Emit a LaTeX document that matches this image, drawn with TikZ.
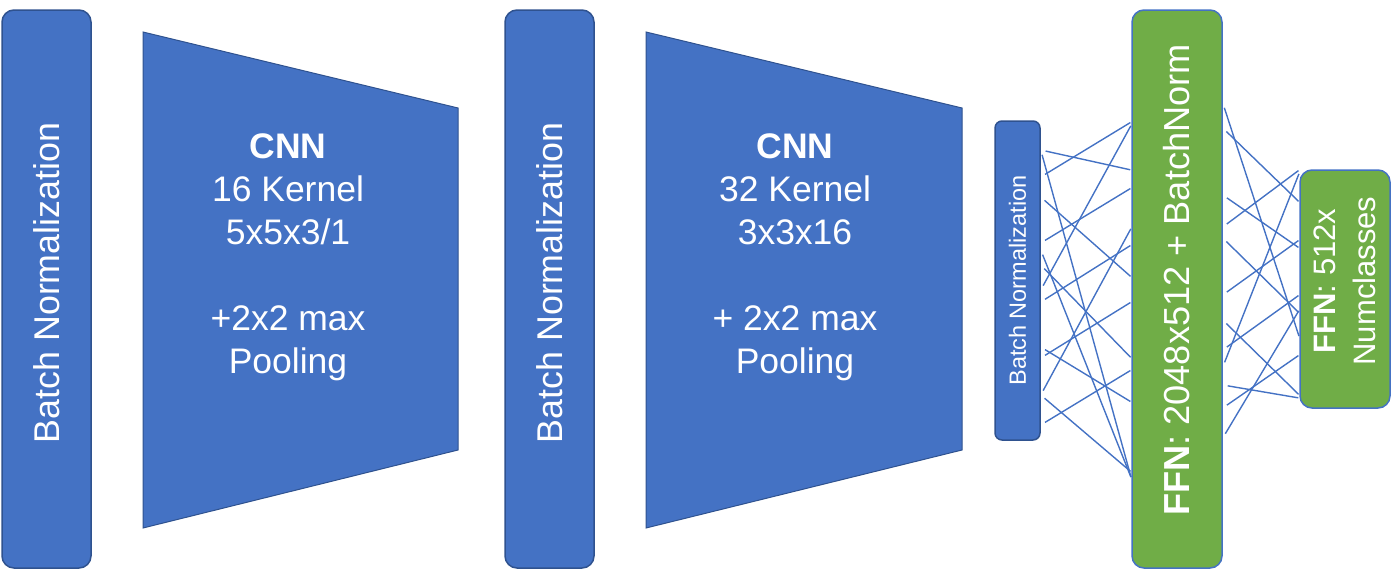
\documentclass[tikz,border=0pt]{standalone}
\usepackage{fontspec}
\setmainfont{Liberation Sans}
\usetikzlibrary{positioning}
\definecolor{bnblue}{HTML}{4472C4}
\definecolor{bnedge}{HTML}{2F528F}
\definecolor{ffgreen}{HTML}{70AD47}

\begin{document}
\begin{tikzpicture}[x=1pt,y=-1pt,
    layer/.style={draw=bnedge,line width=1.5pt,fill=bnblue,text=white,rounded corners=12pt,
      rotate=90,inner sep=0pt,align=center,font=\fontsize{35.8}{40}\selectfont},
    ffn/.style={layer,fill=ffgreen,draw=bnblue},
    cnn/.style={fill=bnblue,draw=bnedge,line width=1pt},
    cnntext/.style={text=white,align=center,font=\fontsize{35.5}{43}\selectfont},
    wire/.style={draw=bnblue,line width=1.4pt,shorten <=5pt,shorten >=1pt}]
    \useasboundingbox (0,0) rectangle (1400,570);

    % batch norm blocks
    \node[layer,minimum width=558pt,minimum height=89pt] (bn1) at (46.5,289)  {\hspace*{12pt}Batch Normalization};
    \node[layer,minimum width=558pt,minimum height=89pt] (bn2) at (549.5,289) {\hspace*{12pt}Batch Normalization};
    \node[layer,rounded corners=7pt,minimum width=319pt,minimum height=45pt,
      font=\fontsize{23.5}{28}\selectfont] (bn3) at (1017.5,280.5) {Batch Normalization};

    % conv blocks
    \fill[cnn] (143,32) -- (458,108) -- (458,450) -- (143,528) -- cycle;
    \node[cnntext] (cnn1) at (288,257) {\textbf{CNN}\\16 Kernel\\5x5x3/1\\[43pt]+2x2 max\\Pooling};
    \fill[cnn] (646,32) -- (962,108) -- (962,450) -- (646,528) -- cycle;
    \node[cnntext] (cnn2) at (795,257) {\textbf{CNN}\\32 Kernel\\3x3x16\\[43pt]+ 2x2 max\\Pooling};

    % dense layers
    \node[ffn,minimum width=558pt,minimum height=90pt,font=\fontsize{36.2}{40}\selectfont] (ffa) at (1177,289)
      {\hspace*{18pt}\textbf{FFN}: 2048x512 + BatchNorm};
    \node[ffn,minimum width=238pt,minimum height=90pt,
      font=\fontsize{31}{40}\selectfont] (ffb) at (1345,289) {\hspace*{16pt}\textbf{FFN}: 512x\\\hspace*{16pt}Numclasses};

    % wires
    \foreach \a/\b in {150/478,150/170,177/122,197/277,243/188,290/125,250/478,
                       265/358,302/245,358/302,347/402,395/228,425/370,395/472}
      \draw[wire] (bn3.south |- 0,\a) -- (ffa.north |- 0,\b);
    \foreach \a/\b in {103/337,128/202,195/248,227/170,238/313,295/240,
                       320/395,350/295,367/173,385/398,408/355,438/310}
      \draw[wire] (ffa.south |- 0,\a) -- (ffb.north |- 0,\b);
  \end{tikzpicture}
\end{document}
